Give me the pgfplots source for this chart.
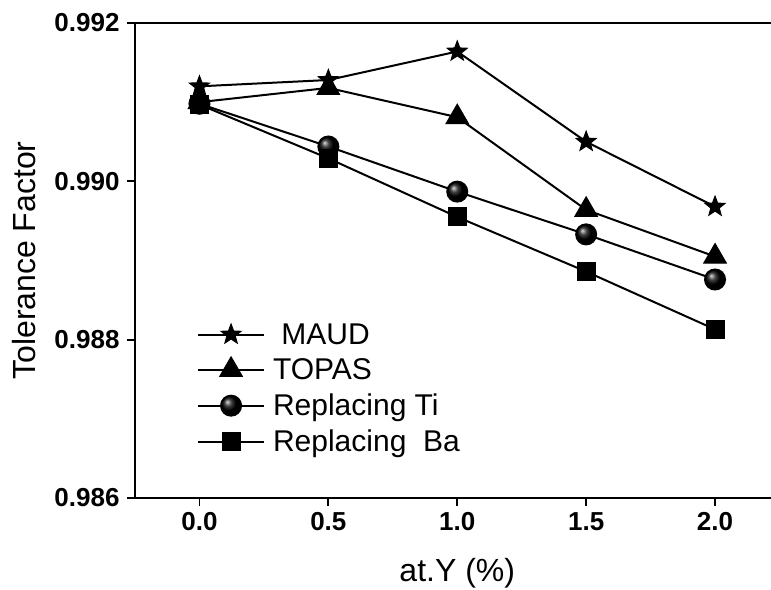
\documentclass[border=0pt]{standalone}
\usepackage{fontspec}
\setmainfont{Liberation Sans}
\usepackage{pgfplots}
\pgfplotsset{compat=1.18}

% filled five-pointed star
\pgfdeclareplotmark{filledstar}{%
  \pgfpathmoveto{\pgfpointpolar{90}{\pgfplotmarksize}}%
  \pgfpathlineto{\pgfpointpolar{126}{0.42\pgfplotmarksize}}%
  \pgfpathlineto{\pgfpointpolar{162}{\pgfplotmarksize}}%
  \pgfpathlineto{\pgfpointpolar{198}{0.42\pgfplotmarksize}}%
  \pgfpathlineto{\pgfpointpolar{234}{\pgfplotmarksize}}%
  \pgfpathlineto{\pgfpointpolar{270}{0.42\pgfplotmarksize}}%
  \pgfpathlineto{\pgfpointpolar{306}{\pgfplotmarksize}}%
  \pgfpathlineto{\pgfpointpolar{342}{0.42\pgfplotmarksize}}%
  \pgfpathlineto{\pgfpointpolar{18}{\pgfplotmarksize}}%
  \pgfpathlineto{\pgfpointpolar{54}{0.42\pgfplotmarksize}}%
  \pgfpathclose
  \pgfusepathqfillstroke
}

\begin{document}
\begin{tikzpicture}
\path[use as bounding box, clip] (-135bp,-92bp) rectangle (636bp,498bp);
\begin{axis}[
  at={(0,0)}, anchor=south west,
  scale only axis, width=644.5bp, height=475bp,
  xmin=-0.25, xmax=2.25, ymin=0.986, ymax=0.992,
  xtick={0,0.5,1,1.5,2}, ytick={0.986,0.988,0.990,0.992},
  tick align=outside, xtick pos=bottom, ytick pos=left,
  major tick length=8bp,
  axis line style={line width=2bp},
  every tick/.style={line width=1.8bp, black},
  scaled y ticks=false,
  /pgf/number format/assume math mode=true,
  xticklabel style={yshift=-3bp, /pgf/number format/.cd, fixed, fixed zerofill, precision=1},
  yticklabel style={xshift=-4bp, /pgf/number format/.cd, fixed, fixed zerofill, precision=3},
  ticklabel style={font=\fontsize{26bp}{30bp}\selectfont\bfseries},
  xlabel={at.Y (\%)}, ylabel={Tolerance Factor},
  label style={font=\fontsize{32bp}{36bp}\selectfont},
  xlabel style={yshift=-21bp},
  ylabel style={yshift=12bp},
  every axis plot/.append style={black, line width=2bp,
    mark options={solid, fill=black, line width=1bp}},
  legend style={draw=none, fill=none, at={(0.096,0.372)}, anchor=north west,
    inner sep=0pt, font=\fontsize{30bp}{34bp}\selectfont, row sep=9bp,
    cells={anchor=west},
    /tikz/every odd column/.append style={column sep=6bp}},
  legend image code/.code={%
    \draw[mark repeat=2, mark phase=2, #1] plot coordinates {(0bp,0bp) (33bp,0bp) (66bp,0bp)};},
]
\addplot[mark=filledstar, mark size=10.5bp] coordinates {
  (0,0.99120) (0.5,0.99128) (1,0.99164) (1.5,0.99050) (2,0.98968)};
\addlegendentry{\ MAUD}
\addplot[mark=triangle*, mark size=13bp] coordinates {
  (0,0.99100) (0.5,0.99118) (1,0.99081) (1.5,0.98964) (2,0.98905)};
\addlegendentry{TOPAS}
\addplot[mark=ball, mark size=10bp, mark options={ball color=black}] coordinates {
  (0,0.99098) (0.5,0.99044) (1,0.98987) (1.5,0.98933) (2,0.98876)};
\addlegendentry{Replacing Ti}
\addplot[mark=square*, mark size=9bp] coordinates {
  (0,0.99097) (0.5,0.99029) (1,0.98955) (1.5,0.98886) (2,0.98813)};
\addlegendentry{Replacing\ \ Ba}
\end{axis}
\end{tikzpicture}
\end{document}
